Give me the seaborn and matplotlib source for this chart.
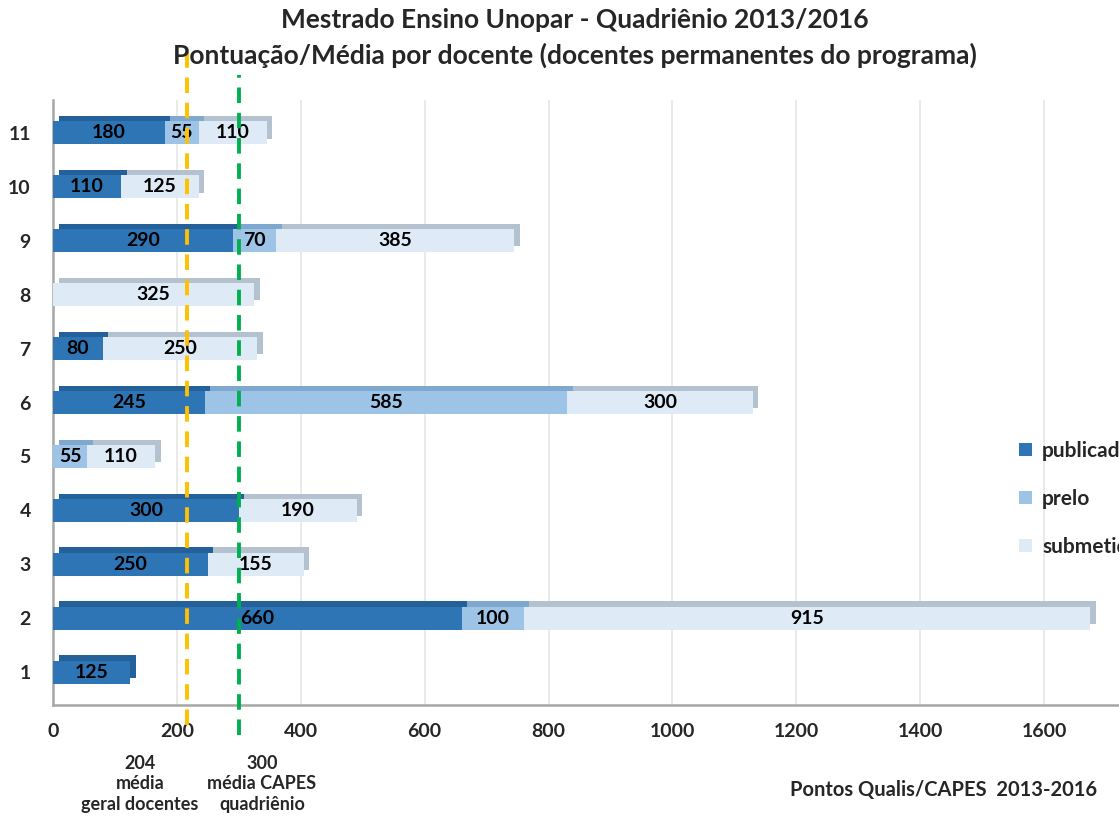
import numpy as np
import pandas as pd
import seaborn as sns
import matplotlib.patheffects as pe
from matplotlib import pyplot as plt
from matplotlib.patches import Patch

docentes = [1, 2, 3, 4, 5, 6, 7, 8, 9, 10, 11]
publicado = [125, 660, 250, 300, 0, 245, 80, 0, 290, 110, 180]
prelo = [0, 100, 0, 0, 55, 585, 0, 0, 70, 0, 55]
submetido = [0, 915, 155, 190, 110, 300, 250, 325, 385, 125, 110]
media_geral = 204
media_capes = 300
x_ticks = [0, 200, 400, 600, 800, 1000, 1200, 1400, 1600]

df = pd.DataFrame({'docente': docentes, 'publicado': publicado,
                   'prelo': prelo, 'submetido': submetido})

sns.set_style('white')
plt.rcParams['font.family'] = ['Lato', 'DejaVu Sans']
plt.rcParams['font.weight'] = 'bold'

fig = plt.figure(figsize=(11.19, 8.19), dpi=100)
ax = fig.add_axes([0.0474, 0.139, 0.952, 0.739])

series = [('publicado', '#2E75B6', '#24609A'),
          ('prelo', '#9DC3E6', '#7FA8CF'),
          ('submetido', '#DEEBF7', '#B4C1CE')]
left = np.zeros(len(df))
for name, face, top in series:
    vals = df[name].to_numpy()
    bars = ax.barh(df['docente'], vals, left=left, height=0.42, color=face,
                   linewidth=0, zorder=3)
    for b, v in zip(bars, vals):
        if v > 0:
            b.set_path_effects([pe.SimplePatchShadow(offset=(4, 4), shadow_rgbFace=top, alpha=1),
                                pe.Normal()])
            ax.text(b.get_x() + v / 2, b.get_y() + b.get_height() / 2, str(v),
                    ha='center', va='center', fontsize=14, fontweight='bold',
                    color='black', zorder=5)
        else:
            b.set_visible(False)
    left = left + vals

ax.set_xlim(0, 1720)
ax.set_ylim(0.39, 11.61)
ax.set_xticks(x_ticks)
ax.set_xticklabels([str(t) for t in x_ticks], fontsize=14, fontweight='bold')
ax.set_yticks(docentes)
ax.set_yticklabels([str(d) for d in docentes], fontsize=14, fontweight='bold')
ax.set_yticks(np.arange(0.5, 12, 1), minor=True)
ax.tick_params(axis='y', which='major', length=0, pad=16)
ax.tick_params(axis='y', which='minor', length=5, color='#A6A6A6', width=1.5)
ax.tick_params(axis='x', length=5, color='#A6A6A6', width=1.5, pad=8)
ax.grid(axis='x', color='#E6E6E6', linewidth=1.2, zorder=0)
sns.despine(ax=ax, top=True, right=True)
for s in ['left', 'bottom']:
    ax.spines[s].set_color('#A6A6A6')
    ax.spines[s].set_linewidth(1.8)

ax.axvline(media_geral + 12, ymin=-0.033, ymax=1.09, color='#FFC000', lw=2.8,
           ls=(0, (4, 2.5)), clip_on=False, zorder=6)
ax.axvline(media_capes, ymin=-0.05, ymax=1.041, color='#00B050', lw=2.8,
           ls=(0, (4, 2.5)), clip_on=False, zorder=6)

fig.text(0.514, 0.975, 'Mestrado Ensino Unopar - Quadriênio 2013/2016',
         ha='center', va='center', fontsize=19, fontweight='bold')
fig.text(0.514, 0.933, 'Pontuação/Média por docente (docentes permanentes do programa)',
         ha='center', va='center', fontsize=19, fontweight='bold')

fig.text(140 / 1119, 0.043, f'{media_geral}\nmédia\ngeral docentes', ha='center',
         va='center', fontsize=13, fontweight='bold', linespacing=1.25)
fig.text(262 / 1119, 0.043, f'{media_capes}\nmédia CAPES\nquadriênio', ha='center',
         va='center', fontsize=13, fontweight='bold', linespacing=1.25)
fig.text(0.706, 0.035, 'Pontos Qualis/CAPES  2013-2016', ha='left', va='center',
         fontsize=14.5, fontweight='bold')

handles = [Patch(facecolor=c, edgecolor='none') for _, c, _ in series]
fig.legend(handles, [n for n, _, _ in series], loc='upper left',
           bbox_to_anchor=(0.894, 0.485), frameon=False,
           handlelength=0.6, handleheight=0.6, handletextpad=0.5, labelspacing=1.35,
           prop={'weight': 'bold', 'size': 15})

plt.savefig('out.png', dpi=100)
